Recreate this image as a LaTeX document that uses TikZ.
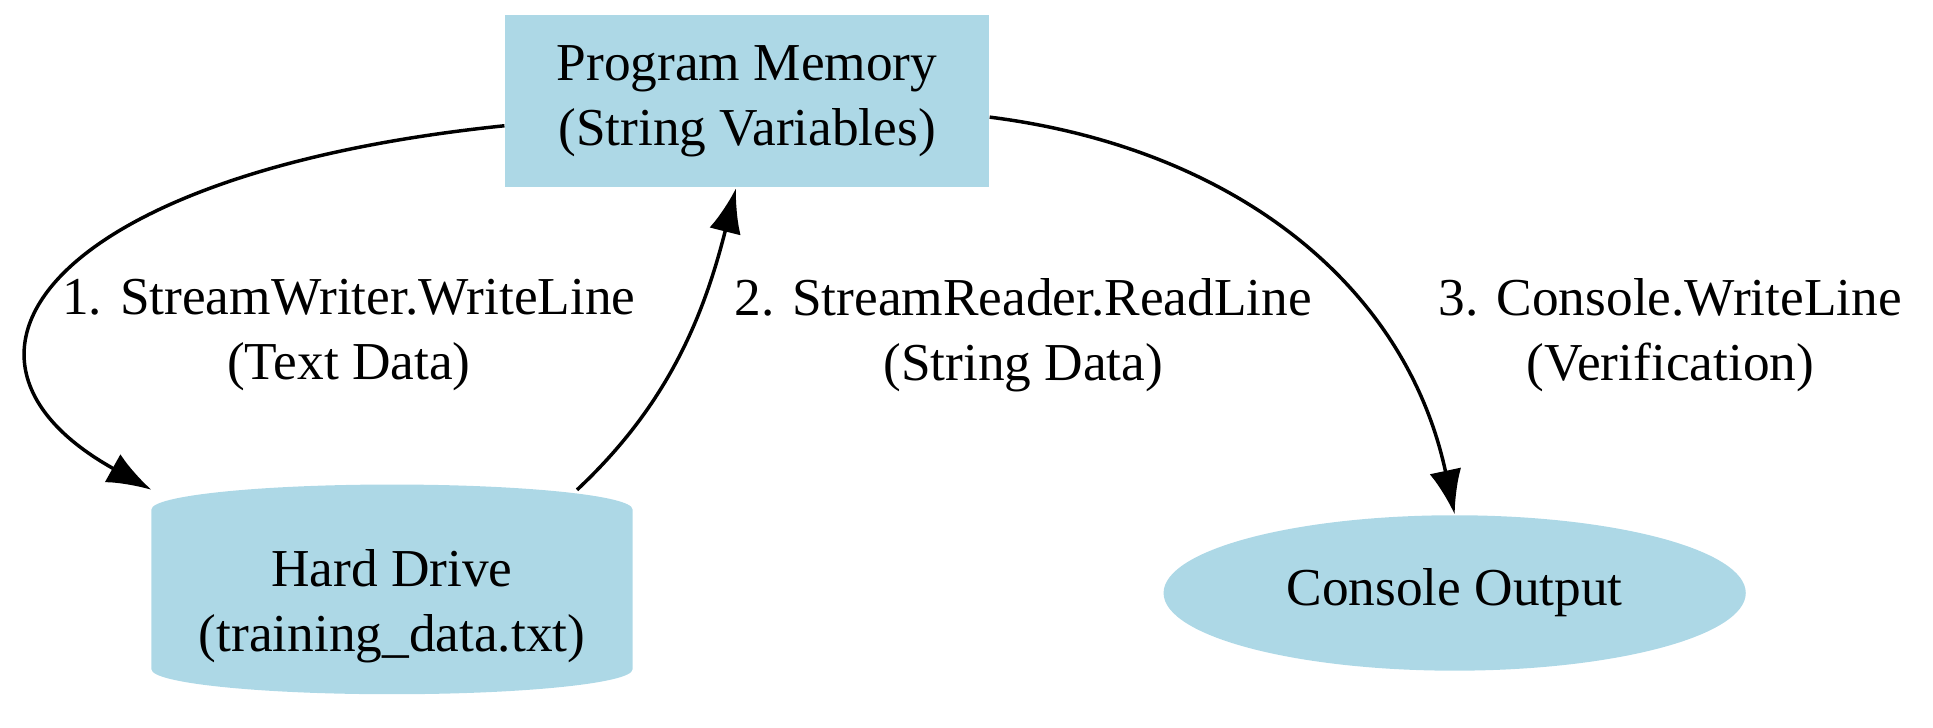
\documentclass[tikz,border=0pt]{standalone}
\usepackage{fontspec}
\setmainfont{Liberation Serif}
\usetikzlibrary{shapes.geometric,arrows.meta}
\definecolor{lightblue}{RGB}{173,216,230}
\tikzset{
  box/.style={fill=lightblue,minimum width=3.92cm,minimum height=1.4cm,align=center},
  drive/.style={cylinder,shape border rotate=90,aspect=0.12,fill=lightblue,minimum width=3.9cm,minimum height=1.7cm,align=center},
  oval/.style={ellipse,fill=lightblue,minimum width=4.72cm,minimum height=1.26cm},
  flow/.style={thick,-{Latex[length=0.36cm,width=0.26cm]}},
  lbl/.style={align=center}
}
\begin{document}
\begin{tikzpicture}[x=0.01cm,y=0.01cm,font=\fontsize{12.3}{15}\selectfont]
\useasboundingbox (0,0) rectangle (1568,590);
\node[box] (pm) at (606,508) {Program Memory\\(String Variables)};
\node[drive] (hd) at (318,98) {Hard Drive\\(training\_data.txt)};
\node[oval] (co) at (1180,109) {Console Output};
\draw[flow] ([yshift=-0.2cm]pm.west) .. controls (40,450) and (-70,300) .. ([xshift=-1.95cm,yshift=-0.05cm]hd.north);
\draw[flow] ([xshift=1.5cm,yshift=-0.05cm]hd.north) .. controls (540,260) and (570,330) .. ([xshift=-0.09cm]pm.south);
\draw[flow] ([yshift=-0.13cm]pm.east) .. controls (1000,470) and (1140,360) .. (co.north);
\node[lbl] (l1) at (283,318) {1. StreamWriter.WriteLine\\(Text Data)};
\node[lbl] (l2) at (830,318) {2. StreamReader.ReadLine\\(String Data)};
\node[lbl] (l3) at (1355,318) {3. Console.WriteLine\\(Verification)};
\end{tikzpicture}
\end{document}
